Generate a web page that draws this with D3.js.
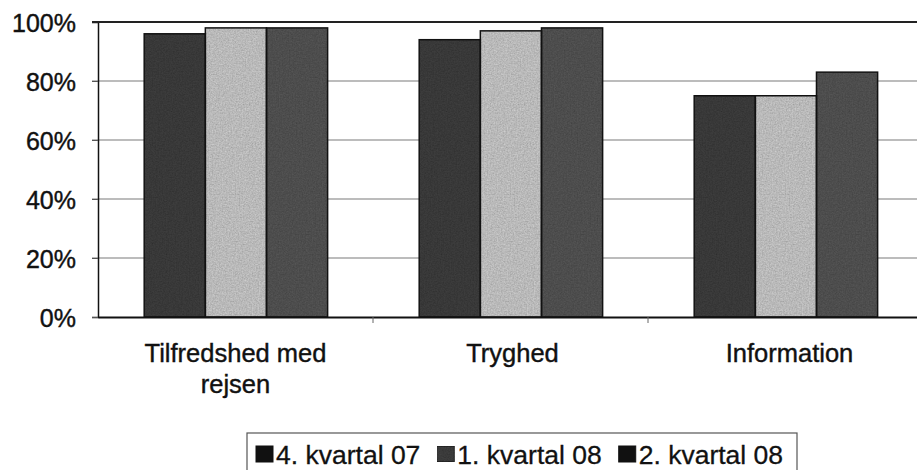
<!DOCTYPE html>
<html>
<head>
<meta charset="utf-8">
<script src="https://cdn.jsdelivr.net/npm/d3@7"></script>
<style>
  body { margin: 0; background: #fff; }
  svg { display: block; font-family: "Liberation Sans", Arial, sans-serif; }
</style>
</head>
<body>
<div id="chart"></div>
<script>
// Data
var categories = [["Tilfredshed med", "rejsen"], ["Tryghed"], ["Information"]];
var seriesNames = ["4. kvartal 07", "1. kvartal 08", "2. kvartal 08"];
var q4_07 = [0.96, 0.94, 0.75];
var q1_08 = [0.98, 0.97, 0.75];
var q2_08 = [0.98, 0.98, 0.83];
var yTicks = [0, 0.2, 0.4, 0.6, 0.8, 1.0];

var series = [q4_07, q1_08, q2_08];
var colors = ["#383838", "#b9b9b9", "#4d4d4d"];

var W = 917, H = 470;
var plot = {left: 98, top: 22, right: 923, bottom: 317};

var svg = d3.select("#chart")
  .append("svg")
    .attr("width", W)
    .attr("height", H);

// grainy texture like the scanned original
var defs = svg.append("defs");
var f = defs.append("filter").attr("id", "grain")
  .attr("x", 0).attr("y", 0).attr("width", 1).attr("height", 1);
f.append("feTurbulence").attr("type", "fractalNoise")
  .attr("baseFrequency", 0.7).attr("numOctaves", 2).attr("seed", 3).attr("result", "noise");
f.append("feColorMatrix").attr("in", "noise").attr("type", "saturate").attr("values", 0).attr("result", "gray");
f.append("feComponentTransfer").attr("in", "gray").attr("result", "gray2")
  .append("feFuncA").attr("type", "linear").attr("slope", 0).attr("intercept", 0.45);
f.append("feBlend").attr("in", "gray2").attr("in2", "SourceGraphic").attr("mode", "overlay").attr("result", "b");
f.append("feComposite").attr("in", "b").attr("in2", "SourceGraphic").attr("operator", "in");

var catKeys = categories.map(c => c.join(" "));

var x0 = d3.scaleBand()
  .domain(catKeys)
  .range([plot.left, plot.right]);

var x1 = d3.scaleBand()
  .domain(d3.range(seriesNames.length))
  .range([x0.bandwidth() * 0.168, x0.bandwidth() * 0.835]);

var y = d3.scaleLinear()
  .domain([0, 1])
  .range([plot.bottom, plot.top]);

// gridlines
svg.append("g")
  .selectAll("line")
  .data(yTicks.filter(d => d > 0 && d < 1))
  .enter()
  .append("line")
    .attr("x1", plot.left - 6)
    .attr("x2", W)
    .attr("y1", d => y(d))
    .attr("y2", d => y(d))
    .attr("stroke", "#7a7a7a")
    .attr("stroke-width", 1.2);

// Y axis
var yAxis = svg.append("g")
  .attr("transform", `translate(${plot.left},0)`)
  .call(d3.axisLeft(y).tickValues(yTicks).tickFormat(d3.format(".0%")).tickSize(6).tickPadding(16));
yAxis.select(".domain").attr("stroke", "#111").attr("stroke-width", 1.5);
yAxis.selectAll(".tick line").attr("stroke", "#555");
yAxis.selectAll(".tick text")
  .attr("font-size", 25)
  .attr("fill", "#111")
  .attr("stroke", "#111")
  .attr("stroke-width", 0.4)
  .attr("font-family", "Liberation Sans, Arial, sans-serif")
  .attr("dy", "0.36em");

// top border of plot area
svg.append("line")
  .attr("x1", plot.left - 6).attr("x2", W)
  .attr("y1", y(1)).attr("y2", y(1))
  .attr("stroke", "#222").attr("stroke-width", 2);

// bars
var groups = svg.append("g")
  .selectAll("g")
  .data(catKeys)
  .enter()
  .append("g")
    .attr("transform", d => `translate(${x0(d)},0)`);

groups.selectAll("rect")
  .data((d, i) => series.map((s, j) => ({s: j, v: s[i]})))
  .enter()
  .append("rect")
    .attr("x", d => x1(d.s))
    .attr("width", x1.bandwidth())
    .attr("y", d => y(d.v))
    .attr("height", d => y(0) - y(d.v))
    .attr("fill", d => colors[d.s])
    .attr("filter", "url(#grain)");

// outlines drawn separately so the filter does not blur them
groups.selectAll("rect.outline")
  .data((d, i) => series.map((s, j) => ({s: j, v: s[i]})))
  .enter()
  .append("rect")
    .attr("class", "outline")
    .attr("x", d => x1(d.s))
    .attr("width", x1.bandwidth())
    .attr("y", d => y(d.v))
    .attr("height", d => y(0) - y(d.v))
    .attr("fill", "none")
    .attr("stroke", "#111")
    .attr("stroke-width", 1.5);

// X axis
var xAxis = svg.append("g")
  .attr("transform", `translate(0,${plot.bottom})`)
  .call(d3.axisBottom(x0).tickSize(0).tickFormat(""));
xAxis.select(".domain").attr("stroke", "#111").attr("stroke-width", 2);
svg.append("line")
  .attr("x1", plot.right).attr("x2", W)
  .attr("y1", plot.bottom).attr("y2", plot.bottom)
  .attr("stroke", "#111").attr("stroke-width", 2);

// small tick marks between categories
svg.append("g")
  .selectAll("line")
  .data(catKeys.slice(1))
  .enter()
  .append("line")
    .attr("x1", d => x0(d)).attr("x2", d => x0(d))
    .attr("y1", plot.bottom).attr("y2", plot.bottom + 6)
    .attr("stroke", "#666");

// category labels
var labels = svg.append("g")
  .selectAll("text")
  .data(categories)
  .enter()
  .append("text")
    .attr("x", (d, i) => x0(catKeys[i]) + x0.bandwidth() / 2 + 2 * i)
    .attr("y", 362)
    .attr("text-anchor", "middle")
    .attr("font-size", 25.5)
    .attr("fill", "#111")
    .attr("stroke", "#111")
    .attr("stroke-width", 0.4);
labels.selectAll("tspan")
  .data(d => d)
  .enter()
  .append("tspan")
    .attr("x", function() { return d3.select(this.parentNode).attr("x"); })
    .attr("dy", (d, i) => i === 0 ? 0 : 31)
    .text(d => d);

// legend
var legend = svg.append("g");
legend.append("rect")
  .attr("x", 247).attr("y", 433)
  .attr("width", 550).attr("height", 60)
  .attr("fill", "#fff")
  .attr("stroke", "#555")
  .attr("stroke-width", 1.2);

var lx = 256;
seriesNames.forEach(function(name, i) {
  legend.append("rect")
    .attr("x", lx).attr("y", 446)
    .attr("width", 17).attr("height", 16)
    .attr("fill", i === 1 ? "#3a3a3a" : "#111")
    .attr("filter", i === 1 ? "url(#grain)" : null)
    .attr("stroke", "#111");
  var t = legend.append("text")
    .attr("x", lx + 20).attr("y", 464)
    .attr("font-size", 26.5)
    .attr("fill", "#111")
    .attr("stroke", "#111")
    .attr("stroke-width", 0.3)
    .text(name);
  lx += 20 + t.node().getComputedTextLength() + 17;
});
</script>
</body>
</html>
